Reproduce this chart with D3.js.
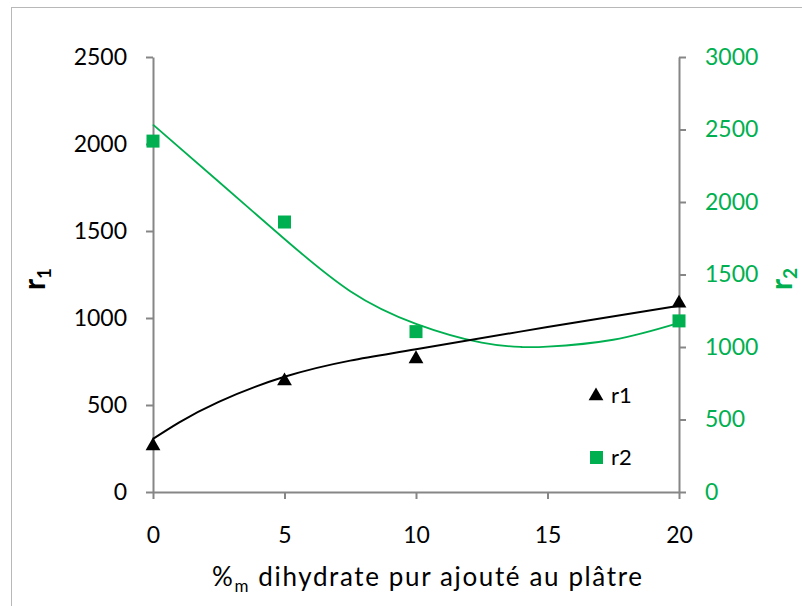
<!DOCTYPE html>
<html>
<head>
<meta charset="utf-8">
<script src="https://cdn.jsdelivr.net/npm/d3@7"></script>
<style>
  html, body { margin: 0; padding: 0; background: #fff; }
  svg { display: block; font-family: Lato, "Open Sans", sans-serif; }
</style>
</head>
<body>
<svg id="chart" width="802" height="606"></svg>
<script>
// ---- data ----
const xValues = [0, 5, 10, 20];
const r1Values = [265, 638, 765, 1085];
const r2Values = [2420, 1862, 1106, 1180];

// trend lines
const r1TrendX = [0, 1, 2.5, 5, 7.5, 10, 15, 20];
const r1TrendY = [305, 400, 518, 662, 755, 820, 948, 1070];
const r2TrendX = [0, 2.5, 5, 7.5, 10, 12.5, 14, 15, 17.5, 20];
const r2TrendY = [2534, 2140, 1745, 1385, 1160, 1030, 1000, 1002, 1050, 1166];

const xTicks = [0, 5, 10, 15, 20];
const leftTicks = [0, 500, 1000, 1500, 2000, 2500];
const rightTicks = [0, 500, 1000, 1500, 2000, 2500, 3000];

const GREEN = "#00B050";
const AXIS = "#868686";

const svg = d3.select("#chart");

// outer frame
svg.append("rect").attr("x", 11.5).attr("y", 7.5).attr("width", 810).attr("height", 620)
  .attr("fill", "none").attr("stroke", "#b8b8b8").attr("stroke-width", 1);

const x = d3.scaleLinear().domain([0, 20]).range([153, 679]);
const yL = d3.scaleLinear().domain([0, 2500]).range([492, 57]);
const yR = d3.scaleLinear().domain([0, 3000]).range([492, 57]);

const fmt = d3.format("d");

function styleAxis(g, color) {
  g.select(".domain").attr("stroke", AXIS).attr("stroke-width", 2);
  g.selectAll(".tick line").attr("stroke", AXIS).attr("stroke-width", 2);
  g.selectAll(".tick text").attr("fill", color).attr("font-size", 23)
    .attr("font-family", "Lato, sans-serif");
}

// left axis
const gL = svg.append("g").attr("transform", "translate(153,0)")
  .call(d3.axisLeft(yL).tickValues(leftTicks).tickFormat(fmt).tickSizeInner(7).tickSizeOuter(0).tickPadding(19));
styleAxis(gL, "#000");

// right axis
const gR = svg.append("g").attr("transform", "translate(679,0)")
  .call(d3.axisRight(yR).tickValues(rightTicks).tickFormat(fmt).tickSizeInner(7).tickSizeOuter(0).tickPadding(19));
styleAxis(gR, GREEN);

// bottom axis
const gB = svg.append("g").attr("transform", "translate(0,492)")
  .call(d3.axisBottom(x).tickValues(xTicks).tickFormat(fmt).tickSizeInner(7).tickSizeOuter(0).tickPadding(28));
styleAxis(gB, "#000");

// trend lines
const r1Trend = r1TrendX.map((v, i) => [v, r1TrendY[i]]);
const r2Trend = r2TrendX.map((v, i) => [v, r2TrendY[i]]);

svg.append("path").datum(r2Trend)
  .attr("d", d3.line().x(d => x(d[0])).y(d => yR(d[1])).curve(d3.curveNatural))
  .attr("fill", "none").attr("stroke", GREEN).attr("stroke-width", 1.8);

svg.append("path").datum(r1Trend)
  .attr("d", d3.line().x(d => x(d[0])).y(d => yL(d[1])).curve(d3.curveNatural))
  .attr("fill", "none").attr("stroke", "#000").attr("stroke-width", 2);

// markers
const tri = d3.symbol().type(d3.symbolTriangle).size(95);
svg.append("g").selectAll("path").data(xValues).join("path")
  .attr("d", tri)
  .attr("transform", (d, i) => `translate(${x(d)},${yL(r1Values[i])})`)
  .attr("fill", "#000");

svg.append("g").selectAll("rect").data(xValues).join("rect")
  .attr("x", d => x(d) - 6.5)
  .attr("y", (d, i) => yR(r2Values[i]) - 6.5)
  .attr("width", 13).attr("height", 13)
  .attr("fill", GREEN);

// legend
const leg = svg.append("g");
leg.append("path").attr("d", tri).attr("transform", "translate(596,396)").attr("fill", "#000");
leg.append("text").attr("x", 611).attr("y", 403).attr("font-size", 22).text("r1");
leg.append("rect").attr("x", 590).attr("y", 451).attr("width", 13).attr("height", 13).attr("fill", GREEN);
leg.append("text").attr("x", 611).attr("y", 465).attr("font-size", 22).text("r2");

// axis titles
const t1 = svg.append("text").attr("transform", "translate(45,279) rotate(-90)")
  .attr("text-anchor", "middle").attr("font-weight", "bold").attr("font-size", 30).attr("fill", "#000");
t1.append("tspan").text("r");
t1.append("tspan").attr("font-size", 19).attr("dy", 6).text("1");

const t2 = svg.append("text").attr("transform", "translate(792,279) rotate(-90)")
  .attr("text-anchor", "middle").attr("font-weight", "bold").attr("font-size", 30).attr("fill", GREEN);
t2.append("tspan").text("r");
t2.append("tspan").attr("font-size", 19).attr("dy", 5).text("2");

const tx = svg.append("text").attr("x", 427).attr("y", 586)
  .attr("text-anchor", "middle").attr("font-size", 26).attr("fill", "#000")
  .attr("textLength", 430).attr("lengthAdjust", "spacing");
tx.append("tspan").text("%");
tx.append("tspan").attr("font-size", 17).attr("dy", 6).text("m");
tx.append("tspan").attr("dy", -6).text(" dihydrate pur ajouté au plâtre");
</script>
</body>
</html>
